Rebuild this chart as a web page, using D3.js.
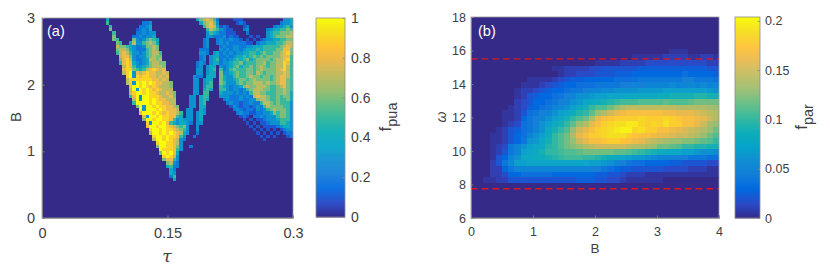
<!DOCTYPE html>
<html>
<head>
<meta charset="utf-8">
<script src="https://cdn.jsdelivr.net/npm/d3@7"></script>
<style>
    html, body { margin: 0; padding: 0; background: #fff; }
    text { font-family: "Liberation Sans", Arial, sans-serif; fill: #404040; }
    .axis path, .axis line { stroke: #8c8c8c; stroke-width: 0.8; }
    .axis text { fill: #404040; }
</style>
</head>
<body>
<svg id="chart" width="830" height="272"></svg>
<script>
//----------------------------//
//            DATA            //
//----------------------------//
const parulaStops = ["#352a87", "#2b4ac7", "#0268e1", "#127dd8", "#108ed2", "#06a4ca", "#0faeb9", "#37b99e",
    "#65be86", "#9bbe6f", "#c0bc60", "#e9b94e", "#ffc337", "#f5de21", "#f9fb0e"];

// (a) f_pua, one string per row from B=3 down, columns from tau=0.072. 0-9 = tenths, a = 1
const puaTauStart = 0.072, puaTauStep = 0.004, puaBStep = 0.05;
const puaRows = [
    "0400000000 0000000000 0000000046 7875200001 1100000000 0000334",
    "0500000000 0022300000 0000000004 6786300000 1210000000 0002334",
    "0050000000 0223400000 0000000000 5787412100 0012000000 0233453",
    "0060000000 1232400000 0000000000 0576532110 0023000002 3445565",
    "0005000000 2232330000 0000000000 0354322111 0002000003 4556667",
    "0006000002 2323340000 0000000000 0332223121 1000101003 4566677",
    "0006500006 3235654000 0000000000 2300232232 2101010123 3445566",
    "0000650047 3356764000 0000000000 2300232322 2221102334 4455677",
    "0000766543 2236676000 0000000000 2300023223 3223344455 5556787",
    "0000677643 2225676000 0000000002 2200032323 3234445455 5566886",
    "0000578753 3235677500 0000000003 3203423232 3344554565 5667896",
    "0000078863 2335676600 0000000002 3034422323 4454565656 6667885",
    "0000068973 2234776700 0000000002 3034523234 5456456666 5677895",
    "0000058984 3234677660 0000000023 2034423345 5645556675 6677985",
    "0000007985 3345677760 0000000023 0344032345 6455656765 6677975",
    "0000008996 5457898780 0000000033 0345052356 5556656766 6678975",
    "00000079a3 8789887787 0000000033 0344063345 6556657656 6677875",
    "00000009a3 9899887878 0000000322 0444064335 6556766566 5678875",
    "0000000799 9999988787 0000000330 3440064334 5665676666 5678865",
    "0000000793 a9a9a98877 6000000330 3450065333 5656677767 6678865",
    "000000008a a9a9898777 6000000330 3550054323 3467667776 5567865",
    "000000007a 3a9a989877 7000000330 4540055323 3235677766 5566765",
    "0000000079 aa9a998778 7600000330 5500043332 3232577665 5566764",
    "0000000058 a3aa999877 8600003304 5500033322 2323278776 5565664",
    "0000000007 a3aa9a9887 7700003304 5400002322 2322336776 5565564",
    "0000000005 aaaa9a9988 7700003304 5000000232 2122322577 6565553",
    "0000000000 6a3aa9a998 8760003304 4000000013 2122123257 6666553",
    "0000000000 0a3aaa9a98 8870033004 3000000002 3212213235 6766653",
    "0000000000 08aaa9a989 8875033034 3000000000 2322112233 4656653",
    "0000000000 0083aa9a99 8854033034 0000000000 0121022323 3356653",
    "0000000000 006aa9aa99 8534333034 0000000000 0010101123 3345553",
    "0000000000 00093aa9a8 5434432033 0000000000 0001010112 3335543",
    "0000000000 0008aa9aa9 8765630030 0000000000 0000101011 1123443",
    "0000000000 00009aa9a9 9876530030 0000000000 0000010101 0101233",
    "0000000000 00007aa9a9 a987430020 0000000000 0000001010 1010122",
    "0000000000 000009aa9a 9985300200 0000000000 0000000101 0100012",
    "0000000000 000007aa9a 9873200000 0000000000 0000000010 0000000",
    "0000000000 0000009aa9 9873000000 0000000000 0000000000 0000000",
    "0000000000 0000006aa9 9863002000 0000000000 0000000000 0000000",
    "0000000000 0000000a99 9853000000 0000000000 0000000000 0000000",
    "0000000000 00000006a9 a840000000 0000000000 0000000000 0000000",
    "0000000000 000000009a 9730000000 0000000000 0000000000 0000000",
    "0000000000 0000000068 8530000000 0000000000 0000000000 0000000",
    "0000000000 0000000006 7320000000 0000000000 0000000000 0000000",
    "0000000000 0000000004 5220000000 0000000000 0000000000 0000000",
    "0000000000 0000000000 4200000000 0000000000 0000000000 0000000",
    "0000000000 0000000000 4300000000 0000000000 0000000000 0000000",
    "0000000000 0000000000 2500000000 0000000000 0000000000 0000000",
    "0000000000 0000000000 0400000000 0000000000 0000000000 0000000",
];

// (b) f_par in hundredths, one row per omega bin from the top, columns from B=0 in steps of 0.1
const parBStep = 0.1, parOmegaStep = 1 / 3, parOmegaTop = 16.1;
const parRows = [
    [0,0,0,0,0,0,0,0,0,0, 0,0,0,0,0,0,0,0,0,0, 0,0,0,0,0,0,0,0,0,0, 0,0,.5,.5,.5,0,0,0,0,0],
    [0,0,0,0,0,0,0,0,0,0, 0,0,0,0,0,0,0,0,0,0, 0,0,0,0,0,0,.5,.5,.5,.5, .5,1,1,1,1,.5,.5,1,1,.5],
    [0,0,0,0,0,0,0,0,0,0, 0,0,0,0,0,0,0,0,0,0, .5,.5,.5,.5,1,1,1,1,1.5,1.5, 1.5,1.5,1.5,1.5,1.5,1.5,1.5,1.5,1,1],
    [0,0,0,0,0,0,0,0,0,0, 0,0,0,.5,.5,1,1,1,1,1.5, 1.5,2,2,2,2,2,2,2.5,2.5,2.5, 2.5,2.5,2.5,2.5,2.5,2.5,2.5,2.5,2,2],
    [0,0,0,0,0,0,0,0,0,0, 0,0,0,0,.5,1,1,1.5,1.5,1.5, 2,2,2,2.5,2.5,2.5,3,3,3,3, 3,3,3,3,3.5,3,3,3,3,2.5],
    [0,0,0,0,0,0,0,0,0,.5, .5,.5,.5,1,1.5,2,2.5,2.5,3,3, 3,3,3,3.5,3.5,3.5,3.5,4,4,4, 4,4,4,4,4.5,4.5,4,4,4,3.5],
    [0,0,0,0,0,0,0,0,.5,.5, .5,1,1.5,2,2.5,3,3,3.5,3.5,3.5, 4,4,4,4,4.5,4.5,5,4.5,5,5, 5,5,5.5,5,5,5.5,5,5.5,5,5],
    [0,0,0,0,0,0,0,.5,1,1, 1.5,2,2.5,3,3,3.5,4,4,4.5,5, 5,5.5,5.5,6,6,6,6,6.5,6.5,6.5, 6.5,7,7,7,7,7,7,7,6.5,6],
    [0,0,0,0,0,0,0,.5,1,2, 2.5,3,3,3.5,4,4.5,5,6,6,6.5, 7,7,7.5,7.5,7.5,8,8,8,8,8, 8.5,8.5,9,9,9,9,9.5,9.5,9,9],
    [0,0,0,0,0,0,0,1,1.5,2, 3,3,3.5,4,4.5,5,6,6.5,7.5,8, 8.5,9,9.5,10,10.5,10.5,10.5,11,11,11, 11,11.5,11,11,11,11.5,12,12,12,12],
    [0,0,0,0,0,0,.5,1,1.5,2.5, 3,3.5,4,5,5.5,6,7,8,9,10, 11,11,12,13,14,14.5,14.5,14.5,14.5,14.5, 14.5,14.5,14.5,14,14,14,14,14,13.5,13],
    [0,0,0,0,0,.5,.5,1,2,3.5, 4,4.5,5,6,7,7.5,8.5,9.5,10,11.5, 13,14,15,16,16.5,17,17,17,17,17, 17,16.5,16.5,16,16,16,15.5,15,14.5,14],
    [0,0,0,0,0,.5,.5,1,3,4, 4.5,5,6,7,8,9,10,11,12,14, 16,17,17.5,18,18,18,18,18.5,18,18, 18,18.5,18,17.5,17,17,16.5,16,15,14],
    [0,0,0,0,0,.5,1,1.5,3.5,4, 4.5,6,7,8,9,10,11.5,13,14,16, 17,18,18.5,19,19,19.5,19.5,18.5,18,18.5, 18,19,18,18,17,17,16,15,13.5,13],
    [0,0,0,0,.5,1,2,2.5,3.5,4, 5,6,8,9,10,11,13,15,16,17, 18,18.5,19,19.5,20,20,18.5,19,18,18, 17,17,16.5,16,15.5,15,14.5,14,13,12],
    [0,0,0,.5,.5,1,2,3,3.5,5, 6,7,8.5,10,11,12,14,16,17,18, 18,18.5,19,19,19,18,17.5,17,17,16.5, 16,16,15.5,15,15,14.5,14,13,12,11],
    [0,0,0,.5,.5,1,2,3,4,6, 6.5,7.5,9,10,11,12,13,15,16,17, 17,17.5,18,18,17.5,17,16.5,16,15,14.5, 14,13.5,13,13,12.5,12.5,12,11.5,11,10],
    [0,0,0,.5,1,1.5,4,5,6,7, 7.5,8,9.5,10,11,12,12.5,13,14,14.5, 15,15,15,15,15,14.5,14,14,13.5,13, 12,12,11.5,11,10,10,9.5,9.5,9,9],
    [0,0,0,.5,1,2,4,5,7,7.5, 8,9,10,10,10.5,11,11,11.5,12,12, 12,12,12,11.5,11.5,11,10.5,10,9.5,9, 8.5,8,8,7.5,7,7,6.5,6,6,5.5],
    [0,0,0,.5,2,3,5,6,8,8, 8.5,8.5,9,9.5,10,10.5,10.5,10.5,10,10, 9.5,9,8.5,8,7.5,7,6.5,6.5,6,5.5, 5,5,4.5,4.5,4.5,4,4,4,3.5,3.5],
    [0,0,0,1,2,4,5.5,7,7,7.5, 7.5,7.5,7.5,7.5,7.5,7.5,7.5,7.5,7.5,7, 7,6.5,6,5,4.5,4,3.5,3.5,3,3, 3,3,2.5,2.5,2,2,2,2,1.5,1.5],
    [0,0,0,1,1,3,4,5,5,5, 5,5,5,5,5,5,5,5,5,4.5, 4.5,4,3.5,3,2.5,2.5,2,2,2,2, 2,1.5,1.5,1.5,1.5,1,1,1,.5,.5],
    [0,0,0,1,1,1.5,3,3,3.5,3.5, 3.5,3.5,3.5,3,3,3,3,3,3,3, 2.5,2.5,2,2,1.5,1,1,1,.5,.5, .5,.5,.5,.5,.5,.5,.5,.5,.5,.5],
    [0,0,.5,.5,1,1,2,2,2,2, 2,2,2,2,2,2,2,2.5,2.5,2.5, 2,2,1.5,1.5,1,.5,.5,.5,.5,.5, .5,0,0,0,0,0,0,0,0,0],
];
const parLimits = [7.75, 15.5];

// tick labels
const tauTicks = [0, 0.15, 0.3];
const puaBTicks = [0, 1, 2, 3];
const puaBarTicks = [0, 0.2, 0.4, 0.6, 0.8, 1];
const parBTicks = [0, 1, 2, 3, 4];
const omegaTicks = [6, 8, 10, 12, 14, 16, 18];
const parBarTicks = [0, 0.05, 0.1, 0.15, 0.2];

//----------------------------//
//           HELPERS          //
//----------------------------//
const svg = d3.select('#chart');

const defs = svg.append('defs');
defs.append('filter').attr('id', 'soft')
    .attr('x', 0).attr('y', 0).attr('width', 1).attr('height', 1)
    .append('feGaussianBlur').attr('stdDeviation', 0.7);
defs.append('filter').attr('id', 'softer')
    .attr('x', 0).attr('y', 0).attr('width', 1).attr('height', 1)
    .append('feGaussianBlur').attr('stdDeviation', 0.45);

const colorScale = (max) => d3.scaleLinear()
    .domain(parulaStops.map((_, i) => (i / (parulaStops.length - 1)) * max))
    .range(parulaStops)
    .clamp(true);

function drawFrame(g, x, y, xTicks, yTicks, fontSize, xPadding, yPadding) {
    const [x0, x1] = x.range();
    const [y0, y1] = y.range();
    g.append('rect')
        .attr('x', x0).attr('y', y1)
        .attr('width', x1 - x0).attr('height', y0 - y1)
        .attr('fill', 'none').attr('stroke', '#9a9a9a').attr('stroke-width', 0.8);
    g.append('g').attr('class', 'axis')
        .attr('transform', `translate(0,${y0})`)
        .call(d3.axisBottom(x).tickValues(xTicks).tickFormat(d3.format('~g')).tickSize(-2.5).tickPadding(xPadding))
        .attr('font-size', fontSize).attr('font-family', null);
    g.append('g').attr('class', 'axis')
        .attr('transform', `translate(${x0},0)`)
        .call(d3.axisLeft(y).tickValues(yTicks).tickFormat(d3.format('~g')).tickSize(-2.5).tickPadding(yPadding))
        .attr('font-size', fontSize).attr('font-family', null);
}

function drawColorbar(g, x0, x1, y, max, color, ticks, fontSize, padding) {
    const steps = d3.range(0, 200);
    g.selectAll('.bar-step')
        .data(steps)
        .enter()
        .append('rect')
        .attr('x', x0)
        .attr('width', x1 - x0)
        .attr('y', (d) => y(((d + 1) / 200) * max))
        .attr('height', (d) => y((d / 200) * max) - y(((d + 1) / 200) * max) + 0.5)
        .attr('fill', (d) => color(((d + 0.5) / 200) * max));
    g.append('rect')
        .attr('x', x0).attr('y', y.range()[1])
        .attr('width', x1 - x0).attr('height', y.range()[0] - y.range()[1])
        .attr('fill', 'none').attr('stroke', '#8c8c8c').attr('stroke-width', 0.8);
    g.append('g').attr('class', 'axis')
        .attr('transform', `translate(${x1},0)`)
        .call(d3.axisRight(y).tickValues(ticks).tickFormat(d3.format('~g')).tickSize(-2.5).tickPadding(padding))
        .attr('font-size', fontSize).attr('font-family', null)
        .call((a) => a.select('.domain').remove())
        .call((a) => a.selectAll('line').attr('stroke', '#333'));
}

function subLabel(g, px, py, main, sub, size) {
    const t = g.append('text')
        .attr('transform', `translate(${px},${py}) rotate(-90)`)
        .attr('text-anchor', 'middle')
        .attr('font-size', size);
    t.append('tspan').text(main);
    t.append('tspan').attr('dy', size * 0.35).attr('font-size', size * 0.85).text(sub);
}

//----------------------------//
//          PANEL (a)         //
//----------------------------//
function plotPua() {
    const g = svg.append('g');
    const x = d3.scaleLinear().domain([0, 0.3]).range([42, 293]);
    const y = d3.scaleLinear().domain([0, 3]).range([218, 18]);
    const color = colorScale(1);

    g.append('rect')
        .attr('x', x(0)).attr('y', y(3))
        .attr('width', x(0.3) - x(0)).attr('height', y(0) - y(3))
        .attr('fill', color(0));

    const cells = [];
    puaRows.forEach((row, r) => {
        row.replace(/ /g, '').split('').forEach((ch, i) => {
            const v = parseInt(ch, 16) / 10;
            if (v > 0) cells.push({ tau: puaTauStart + i * puaTauStep, b: 3 - r * puaBStep, v });
        });
    });

    g.append('g').attr('filter', 'url(#soft)')
        .selectAll('rect')
        .data(cells)
        .enter()
        .append('rect')
        .attr('shape-rendering', 'crispEdges')
        .attr('x', (d) => x(d.tau))
        .attr('y', (d) => y(d.b))
        .attr('width', (d) => x(d.tau + puaTauStep) - x(d.tau))
        .attr('height', (d) => y(d.b - puaBStep) - y(d.b))
        .attr('fill', (d) => color(d.v));

    drawFrame(g, x, y, tauTicks, puaBTicks, 14.5, 10, 7);

    g.append('text').attr('x', 47).attr('y', 36).attr('font-size', 14.5)
        .style('fill', '#fff').text('(a)');
    g.append('text')
        .attr('transform', 'translate(21,117) rotate(-90)')
        .attr('text-anchor', 'middle').attr('font-size', 15).text('B');
    g.append('text')
        .attr('x', 167).attr('y', 262)
        .attr('text-anchor', 'middle').attr('font-size', 17)
        .attr('font-style', 'italic').style('font-family', '"DejaVu Serif", serif').text('τ');

    const barY = d3.scaleLinear().domain([0, 1]).range([217, 18]);
    drawColorbar(g, 316, 345, barY, 1, color, puaBarTicks, 14, 6);
    subLabel(g, 391, 117, 'f', 'pua', 17);
}

//----------------------------//
//          PANEL (b)         //
//----------------------------//
function plotPar() {
    const g = svg.append('g');
    const x = d3.scaleLinear().domain([0, 4]).range([471, 719]);
    const y = d3.scaleLinear().domain([6, 18]).range([218, 17]);
    const color = colorScale(0.204);

    g.append('rect')
        .attr('x', x(0)).attr('y', y(18))
        .attr('width', x(4) - x(0)).attr('height', y(6) - y(18))
        .attr('fill', color(0));

    const cells = [];
    parRows.forEach((row, r) => {
        row.forEach((v, c) => {
            if (v > 0) cells.push({ b: c * parBStep, om: parOmegaTop - r * parOmegaStep, v: v / 100 });
        });
    });

    g.append('g').attr('filter', 'url(#softer)')
        .selectAll('rect')
        .data(cells)
        .enter()
        .append('rect')
        .attr('shape-rendering', 'crispEdges')
        .attr('x', (d) => x(d.b))
        .attr('y', (d) => y(d.om))
        .attr('width', (d) => x(d.b + parBStep) - x(d.b))
        .attr('height', (d) => y(d.om - parOmegaStep) - y(d.om))
        .attr('fill', (d) => color(d.v));

    g.selectAll('.limit')
        .data(parLimits)
        .enter()
        .append('line')
        .attr('x1', x(0)).attr('x2', x(4))
        .attr('y1', (d) => y(d)).attr('y2', (d) => y(d))
        .attr('stroke', '#e3141e').attr('stroke-width', 1.4)
        .attr('stroke-dasharray', '6.5,4.2');

    drawFrame(g, x, y, parBTicks, omegaTicks, 12.5, 9, 5);

    g.append('text').attr('x', 478).attr('y', 36).attr('font-size', 14.5)
        .style('fill', '#fff').text('(b)');
    g.append('text')
        .attr('x', 595).attr('y', 253)
        .attr('text-anchor', 'middle').attr('font-size', 13.5).text('B');
    g.append('text')
        .attr('transform', 'translate(446,117) rotate(-90)')
        .attr('text-anchor', 'middle').attr('font-size', 14)
        .attr('font-style', 'italic').text('ω');

    const barY = d3.scaleLinear().domain([0, 0.204]).range([218, 17]);
    drawColorbar(g, 735, 760, barY, 0.204, color, parBarTicks, 12.5, 5);
    subLabel(g, 807, 117, 'f', 'par', 17);
}

// --- Main Execution ---
plotPua();
plotPar();
</script>
</body>
</html>
